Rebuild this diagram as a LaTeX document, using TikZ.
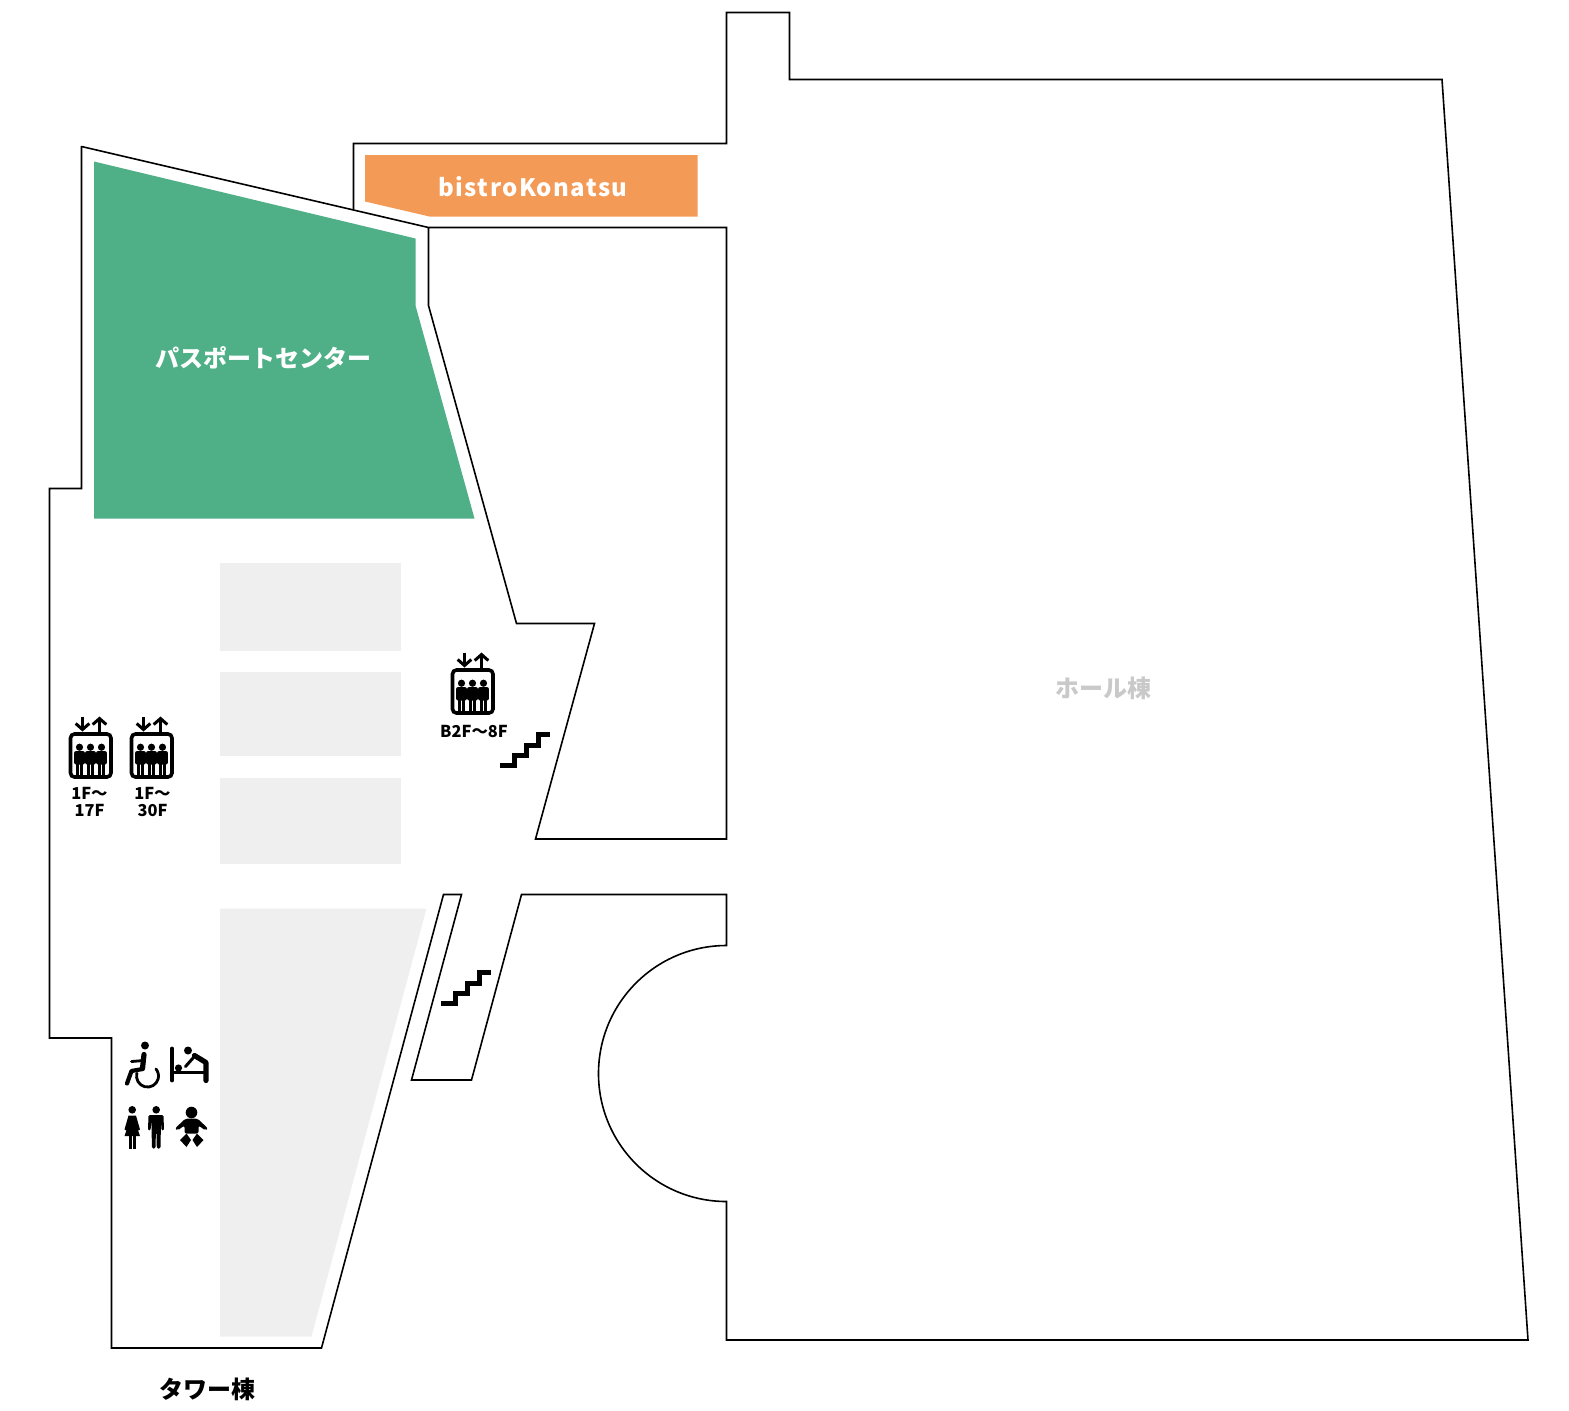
\documentclass[tikz,border=0pt]{standalone}
\usepackage{fontspec}
\setmainfont{Noto Sans CJK JP}
\newfontfamily\spacedfont[LetterSpace=6]{Noto Sans CJK JP}
\usetikzlibrary{arrows.meta}
\definecolor{passgreen}{HTML}{4FAF87}
\definecolor{bistroorange}{HTML}{F49A57}
\definecolor{blockgray}{HTML}{EFEFEF}
\definecolor{labelgray}{HTML}{C9C9C9}
\tikzset{font=\bfseries\fontsize{12}{14}\selectfont}
\tikzset{wall/.style={draw=black, line width=.8pt, line join=miter}}
\tikzset{block/.style={fill=blockgray}}
\tikzset{smalltext/.style={font=\bfseries\fontsize{8.2}{8.5}\selectfont, align=center, inner sep=0pt}}
\tikzset{icon/.style={fill=black}}
\tikzset{limb/.style={draw=black, line cap=round, line join=round, line width=2.6pt}}
\tikzset{pics/person/.style={code={
  \fill[icon] (0,14.7) circle[radius=1.8pt];
  \fill[icon, rounded corners=1pt] (-5.4,18.5) rectangle (5.4,32);
  \fill[icon] (-3.6,30) rectangle (-.2,44);
  \fill[icon] (.2,30) rectangle (3.6,44);
}}}
\tikzset{pics/elevator/.style={code={
  \draw[line width=1.8pt, rounded corners=2pt] (1,1.5) rectangle (41.5,44.5);
  \draw[line width=1.5pt, -{Straight Barb[length=3pt,width=6.8pt]}] (13,-16) -- (13,-1);
  \draw[line width=1.5pt, -{Straight Barb[length=3pt,width=6.8pt]}] (30,-1) -- (30,-16);
  \pic at (10,0) {person};
  \pic at (21,0) {person};
  \pic at (32,0) {person};
}}}
\tikzset{pics/stairs/.style={code={
  \draw[line width=2.5pt, line join=miter]
    (0,0) -- (14,0) -- (14,-10) -- (26,-10) -- (26,-20) -- (38,-20) -- (38,-31) -- (50,-31);
}}}
\begin{document}
\begin{tikzpicture}[x=.5pt, y=-.5pt]
  \useasboundingbox (-.5,-.5) rectangle (1568.5,1409.5);
  % coloured areas
  \fill[passgreen] (93.5,161) -- (415,238) -- (415,305) -- (474,518) -- (93.5,518) -- cycle;
  \fill[bistroorange] (364.5,154.5) -- (697,154.5) -- (697,216) -- (429,216) -- (364.5,201) -- cycle;
  \fill[block] (219.5,562.5) rectangle (400,650);
  \fill[block] (219.5,671.5) rectangle (400,755);
  \fill[block] (219.5,777.5) rectangle (400,863);
  \fill[block] (219.5,908) -- (426,908) -- (311,1336) -- (219.5,1336) -- cycle;
  % walls
  \draw[wall] (81,146) -- (428,227) -- (428,305) -- (516,623) -- (594,623) -- (535,838.5)
    -- (726,838.5) -- (726,227) -- (428,227);
  \draw[wall] (353,209) -- (353,143) -- (726,143) -- (726,12) -- (789,12) -- (789,79)
    -- (1441.5,79) -- (1527.5,1339.5) -- (726,1339.5) -- (726,1201)
    arc[start angle=270, end angle=90, radius=64pt] -- (726,894) -- (521,894) -- (471,1079.5)
    -- (411,1079.5) -- (461,894) -- (443,894) -- (321,1347.5) -- (111,1347.5) -- (111,1037.5)
    -- (49,1037.5) -- (49,488) -- (81,488) -- (81,145.5);
  % labels
  \node[white] (passport) at (263,357.5) {パスポートセンター};
  \node[white] (bistro) at (532.5,186) {\spacedfont bistroKonatsu};
  \node[labelgray] (hall) at (1103,688) {ホール棟};
  \node (tower) at (207,1389) {タワー棟};
  \node[smalltext] (lift1) at (89,801.5) {1F〜\\17F};
  \node[smalltext] (lift2) at (152,801.5) {1F〜\\30F};
  \node[smalltext] (lift3) at (473.5,731) {B2F〜8F};
  % elevators and stairs
  \pic at (69,732) {elevator};
  \pic at (130,732) {elevator};
  \pic at (451,668) {elevator};
  \pic at (499.5,765) {stairs};
  \pic at (440.5,1003) {stairs};
  % wheelchair
  \fill[icon] (144.5,1045) circle[radius=2pt];
  \draw[limb] (143.5,1054) -- (142,1068);
  \draw[limb, line width=2.1pt] (142,1068.5) -- (131,1070.5) -- (126.5,1083);
  \draw[limb, line width=1.4pt] (131,1061) -- (143,1060);
  \draw[limb, line width=1.4pt] (136.4,1072.7) arc[start angle=165, end angle=400, radius=5.5pt];
  % changing table
  \fill[icon] (187.5,1050) circle[radius=2pt];
  \fill[icon] (178,1067.5) circle[radius=1.8pt];
  \draw[limb, line width=1.9pt] (171.5,1048) -- (171.5,1080);
  \draw[limb, line width=1.7pt] (172,1072) -- (206,1072);
  \draw[limb] (194,1055) -- (205.5,1062) -- (205.5,1080);
  \draw[limb, line width=1.5pt] (193,1057) -- (185,1066);
  % restroom
  \fill[icon] (131.7,1109.3) circle[radius=1.9pt];
  \fill[icon] (128,1115) -- (135.5,1115) -- (139.5,1129) -- (137.7,1130) -- (135,1122) -- (139.5,1135.5)
    -- (124,1135.5) -- (128.5,1122) -- (125.8,1130) -- (124,1129) -- cycle;
  \fill[icon] (128.5,1135) rectangle (131.3,1148);
  \fill[icon] (132.7,1135) rectangle (135.5,1148);
  \fill[icon] (155.7,1109.3) circle[radius=1.9pt];
  \fill[icon, rounded corners=.7pt] (148,1114.5) -- (163,1114.5) -- (163.5,1130) -- (161,1130) -- (160.5,1120)
    -- (160,1148) -- (156.3,1148) -- (156,1132) -- (155.4,1132) -- (155,1148) -- (151.4,1148)
    -- (151,1120) -- (150,1130) -- (147.5,1130) -- cycle;
  % baby
  \fill[icon] (191,1112) circle[radius=2.9pt];
  \fill[icon, rounded corners=1pt] (185,1118) -- (197,1118) -- (207.5,1128) -- (205,1130) -- (198,1125)
    -- (198,1133) -- (184,1133) -- (184,1125) -- (177,1130) -- (174.5,1128) -- cycle;
  \fill[icon] (179.5,1139.5) -- (186,1133) -- (190.5,1139.5) -- (186,1146.5) -- cycle;
  \fill[icon] (192,1139.5) -- (196.5,1133) -- (203,1139.5) -- (196.5,1146.5) -- cycle;
\end{tikzpicture}
\end{document}
